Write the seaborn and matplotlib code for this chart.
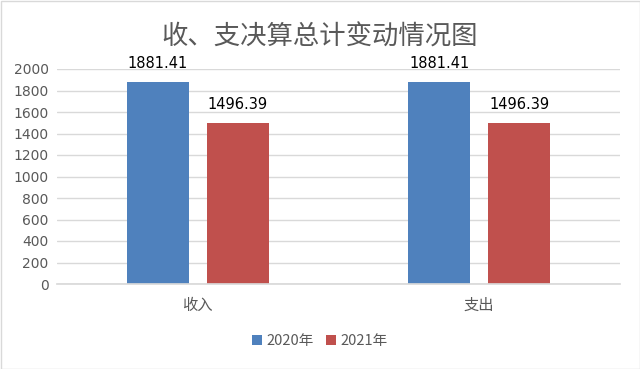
import matplotlib
matplotlib.use("Agg")
import matplotlib.pyplot as plt
import seaborn as sns
import pandas as pd

categories = ["收入", "支出"]
series_names = ["2020年", "2021年"]
values_2020 = [1881.41, 1881.41]
values_2021 = [1496.39, 1496.39]
yticks = [0, 200, 400, 600, 800, 1000, 1200, 1400, 1600, 1800, 2000]
title = "收、支决算总计变动情况图"

df = pd.DataFrame({
    "类别": categories * 2,
    "年份": [series_names[0]] * 2 + [series_names[1]] * 2,
    "值": values_2020 + values_2021,
})

sns.set_theme(style="white")
plt.rcParams['font.family'] = ['Noto Sans CJK SC', 'DejaVu Sans']

fig = plt.figure(figsize=(6.4, 3.69), dpi=100)
ax = fig.add_axes([57/640, 1 - 284/369, 563/640, 215/369])

sns.barplot(data=df, x="类别", y="值", hue="年份", order=categories,
            hue_order=series_names, palette=["#4F81BD", "#C0504D"],
            width=0.568, gap=0.225, ax=ax, legend=True, saturation=1,
            linewidth=0)

ax.set_ylim(0, 2000)
ax.set_yticks(yticks)
ax.set_yticklabels([str(t) for t in yticks], color="#595959", fontsize=10, family=['DejaVu Sans'])
ax.set_xlim(-0.5, 1.5)
ax.set_xlabel("")
ax.set_ylabel("")
ax.tick_params(axis='x', colors="#595959", labelsize=11, length=0, pad=9)
ax.tick_params(axis='y', length=0, pad=6)
ax.grid(axis='y', color="#D9D9D9", linewidth=1)
ax.set_axisbelow(True)
for s in ["top", "right", "left"]:
    ax.spines[s].set_visible(False)
ax.spines["bottom"].set_color("#D9D9D9")

for cont in ax.containers:
    ax.bar_label(cont, labels=[f"{v:.2f}" for v in cont.datavalues],
                 padding=8, fontsize=10.5, color="black", family=['DejaVu Sans'])

handles, labels = ax.get_legend_handles_labels()
ax.legend_.remove()
fig.legend(handles, labels, loc="center", bbox_to_anchor=(320/640, 1 - 341/369),
           ncol=2, frameon=False, fontsize=10.5, handlelength=0.7, handleheight=0.7,
           handletextpad=0.3, columnspacing=0.8, labelcolor="#595959")

fig.text(0.5, 1 - 37/369, title, ha="center", va="center", fontsize=19, color="#595959")

border = plt.Rectangle((0.5/640, 0.5/369), 1 - 1/640, 1 - 1/369, transform=fig.transFigure,
                       fill=False, edgecolor="#D9D9D9", linewidth=1)
fig.patches.append(border)

fig.savefig("out.png", dpi=100)
